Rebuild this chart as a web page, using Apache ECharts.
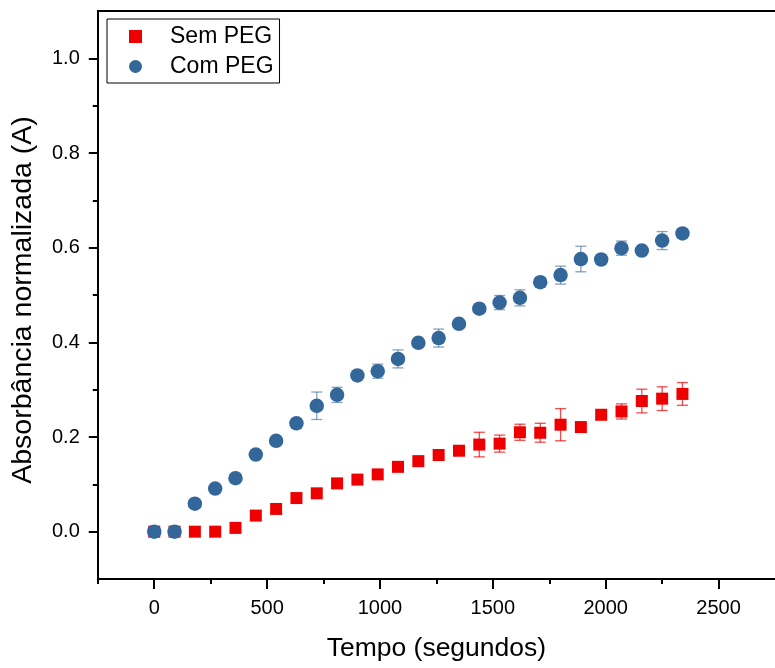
<!DOCTYPE html>
<html>
<head>
<meta charset="utf-8">
<script src="https://cdn.jsdelivr.net/npm/echarts@6/dist/echarts.min.js"></script>
<style>
  html, body { margin: 0; padding: 0; background: #ffffff; }
  #chart { width: 775px; height: 668px; }
</style>
</head>
<body>
<div id="chart"></div>
<script>
// Time points (s)
const tempo = [0, 90, 180, 270, 360, 450, 540, 630, 720, 810, 900, 990, 1080, 1170,
  1260, 1350, 1440, 1530, 1620, 1710, 1800, 1890, 1980, 2070, 2160, 2250, 2340];

// Normalised absorbance without PEG, with standard deviation
const semPEG = [0, 0, 0, 0, 0.008, 0.034, 0.048, 0.071, 0.081, 0.102, 0.110, 0.121, 0.137, 0.149,
  0.162, 0.171, 0.184, 0.186, 0.210, 0.209, 0.226, 0.221, 0.247, 0.254, 0.276, 0.281, 0.291];
const semPEGErr = [0, 0.006, 0, 0, 0, 0, 0, 0, 0, 0, 0, 0, 0.010, 0,
  0, 0, 0.026, 0.018, 0.017, 0.020, 0.034, 0.005, 0.010, 0.016, 0.025, 0.025, 0.024];

// Normalised absorbance with PEG, with standard deviation
const comPEG = [0, 0, 0.059, 0.091, 0.113, 0.163, 0.192, 0.229, 0.266, 0.289, 0.330, 0.339, 0.365, 0.399,
  0.409, 0.439, 0.471, 0.484, 0.494, 0.527, 0.542, 0.576, 0.575, 0.599, 0.594, 0.615, 0.630];
const comPEGErr = [0, 0, 0, 0, 0, 0.008, 0.005, 0.010, 0.029, 0.016, 0, 0.015, 0.019, 0,
  0.019, 0, 0, 0.015, 0.017, 0.010, 0.019, 0.027, 0.005, 0.015, 0, 0.019, 0];

// Axis ticks
const xMajorTicks = [0, 500, 1000, 1500, 2000, 2500];
const xMinorTicks = [-250, 250, 750, 1250, 1750, 2250];
const yMajorTicks = [0.0, 0.2, 0.4, 0.6, 0.8, 1.0];
const yMinorTicks = [0.1, 0.3, 0.5, 0.7, 0.9];

const FONT = 'Liberation Sans, Arial, sans-serif';
const RED = '#ee0000';
const BLUE = '#336699';

function points(ys) { return tempo.map((t, i) => [t, ys[i]]); }
function withErr(ys, es) { return tempo.map((t, i) => [t, ys[i], es[i]]); }

function errorBars(color) {
  return function (params, api) {
    const x = api.value(0), y = api.value(1), e = api.value(2);
    if (!e) return null;
    const hi = api.coord([x, y + e]);
    const lo = api.coord([x, y - e]);
    const cap = 5.5;
    const style = { stroke: color, lineWidth: 1.3 };
    return {
      type: 'group',
      children: [
        { type: 'line', shape: { x1: hi[0], y1: hi[1], x2: lo[0], y2: lo[1] }, style },
        { type: 'line', shape: { x1: hi[0] - cap, y1: hi[1], x2: hi[0] + cap, y2: hi[1] }, style },
        { type: 'line', shape: { x1: lo[0] - cap, y1: lo[1], x2: lo[0] + cap, y2: lo[1] }, style }
      ]
    };
  };
}

const axisLineStyle = { color: '#000', width: 2 };

const chart = echarts.init(document.getElementById('chart'), null, { renderer: 'canvas' });
chart.setOption({
  animation: false,
  backgroundColor: '#ffffff',
  textStyle: { fontFamily: FONT },
  grid: { left: 97.8, top: 11, width: 686.4, height: 568, containLabel: false },
  legend: {
    left: 107, top: 19,
    orient: 'vertical',
    data: ['Sem PEG', 'Com PEG'],
    itemWidth: 13, itemHeight: 13, itemGap: 7,
    padding: [6, 6, 5, 22],
    borderColor: '#000', borderWidth: 1, borderRadius: 0,
    backgroundColor: '#fff',
    textStyle: { fontFamily: FONT, fontSize: 23, color: '#000', padding: [0, 0, 0, 23] }
  },
  xAxis: [
    {
      type: 'value', position: 'bottom', min: -250, max: 2750,
      name: 'Tempo (segundos)', nameLocation: 'middle', nameGap: 56,
      nameTextStyle: { fontFamily: FONT, fontSize: 26.5, color: '#000' },
      axisLine: { show: true, onZero: false, lineStyle: axisLineStyle },
      axisTick: { show: true, inside: false, length: 10, lineStyle: { color: '#000', width: 2 }, customValues: xMajorTicks },
      axisLabel: {
        show: true, margin: 19, fontFamily: FONT, fontSize: 20, color: '#000',
        customValues: xMajorTicks, formatter: v => String(v)
      },
      splitLine: { show: false }
    },
    {
      type: 'value', position: 'bottom', min: -250, max: 2750,
      axisLine: { show: false, onZero: false },
      axisTick: { show: true, inside: false, length: 5, lineStyle: { color: '#000', width: 2 }, customValues: xMinorTicks },
      axisLabel: { show: false },
      splitLine: { show: false }
    },
    {
      type: 'value', position: 'top', min: -250, max: 2750,
      axisLine: { show: true, onZero: false, lineStyle: axisLineStyle },
      axisTick: { show: false }, axisLabel: { show: false }, splitLine: { show: false }
    }
  ],
  yAxis: [
    {
      type: 'value', position: 'left', min: -0.1, max: 1.1,
      name: 'Absorbância normalizada (A)', nameLocation: 'middle', nameGap: 60,
      nameTextStyle: { fontFamily: FONT, fontSize: 28.5, color: '#000', padding: [0, 10, 0, 0] },
      axisLine: { show: true, onZero: false, lineStyle: axisLineStyle },
      axisTick: { show: true, inside: false, length: 9, lineStyle: { color: '#000', width: 2 }, customValues: yMajorTicks },
      axisLabel: {
        show: true, margin: 18, fontFamily: FONT, fontSize: 20, color: '#000',
        customValues: yMajorTicks, formatter: v => v.toFixed(1)
      },
      splitLine: { show: false }
    },
    {
      type: 'value', position: 'left', min: -0.1, max: 1.1,
      axisLine: { show: false, onZero: false },
      axisTick: { show: true, inside: false, length: 5, lineStyle: { color: '#000', width: 2 }, customValues: yMinorTicks },
      axisLabel: { show: false },
      splitLine: { show: false }
    }
  ],
  series: [
    {
      name: 'Sem PEG err', type: 'custom', xAxisIndex: 0, yAxisIndex: 0, z: 2,
      renderItem: errorBars('rgba(238,0,0,0.7)'),
      data: withErr(semPEG, semPEGErr), encode: { x: 0, y: 1 }, silent: true
    },
    {
      name: 'Sem PEG', type: 'scatter', xAxisIndex: 0, yAxisIndex: 0, z: 3,
      symbol: 'rect', symbolSize: 12,
      itemStyle: { color: RED, opacity: 1 },
      data: points(semPEG)
    },
    {
      name: 'Com PEG err', type: 'custom', xAxisIndex: 0, yAxisIndex: 0, z: 4,
      renderItem: errorBars('rgba(51,102,153,0.6)'),
      data: withErr(comPEG, comPEGErr), encode: { x: 0, y: 1 }, silent: true
    },
    {
      name: 'Com PEG', type: 'scatter', xAxisIndex: 0, yAxisIndex: 0, z: 5,
      symbol: 'circle', symbolSize: 14.5,
      itemStyle: { color: BLUE, opacity: 1 },
      data: points(comPEG)
    }
  ]
});
</script>
</body>
</html>
